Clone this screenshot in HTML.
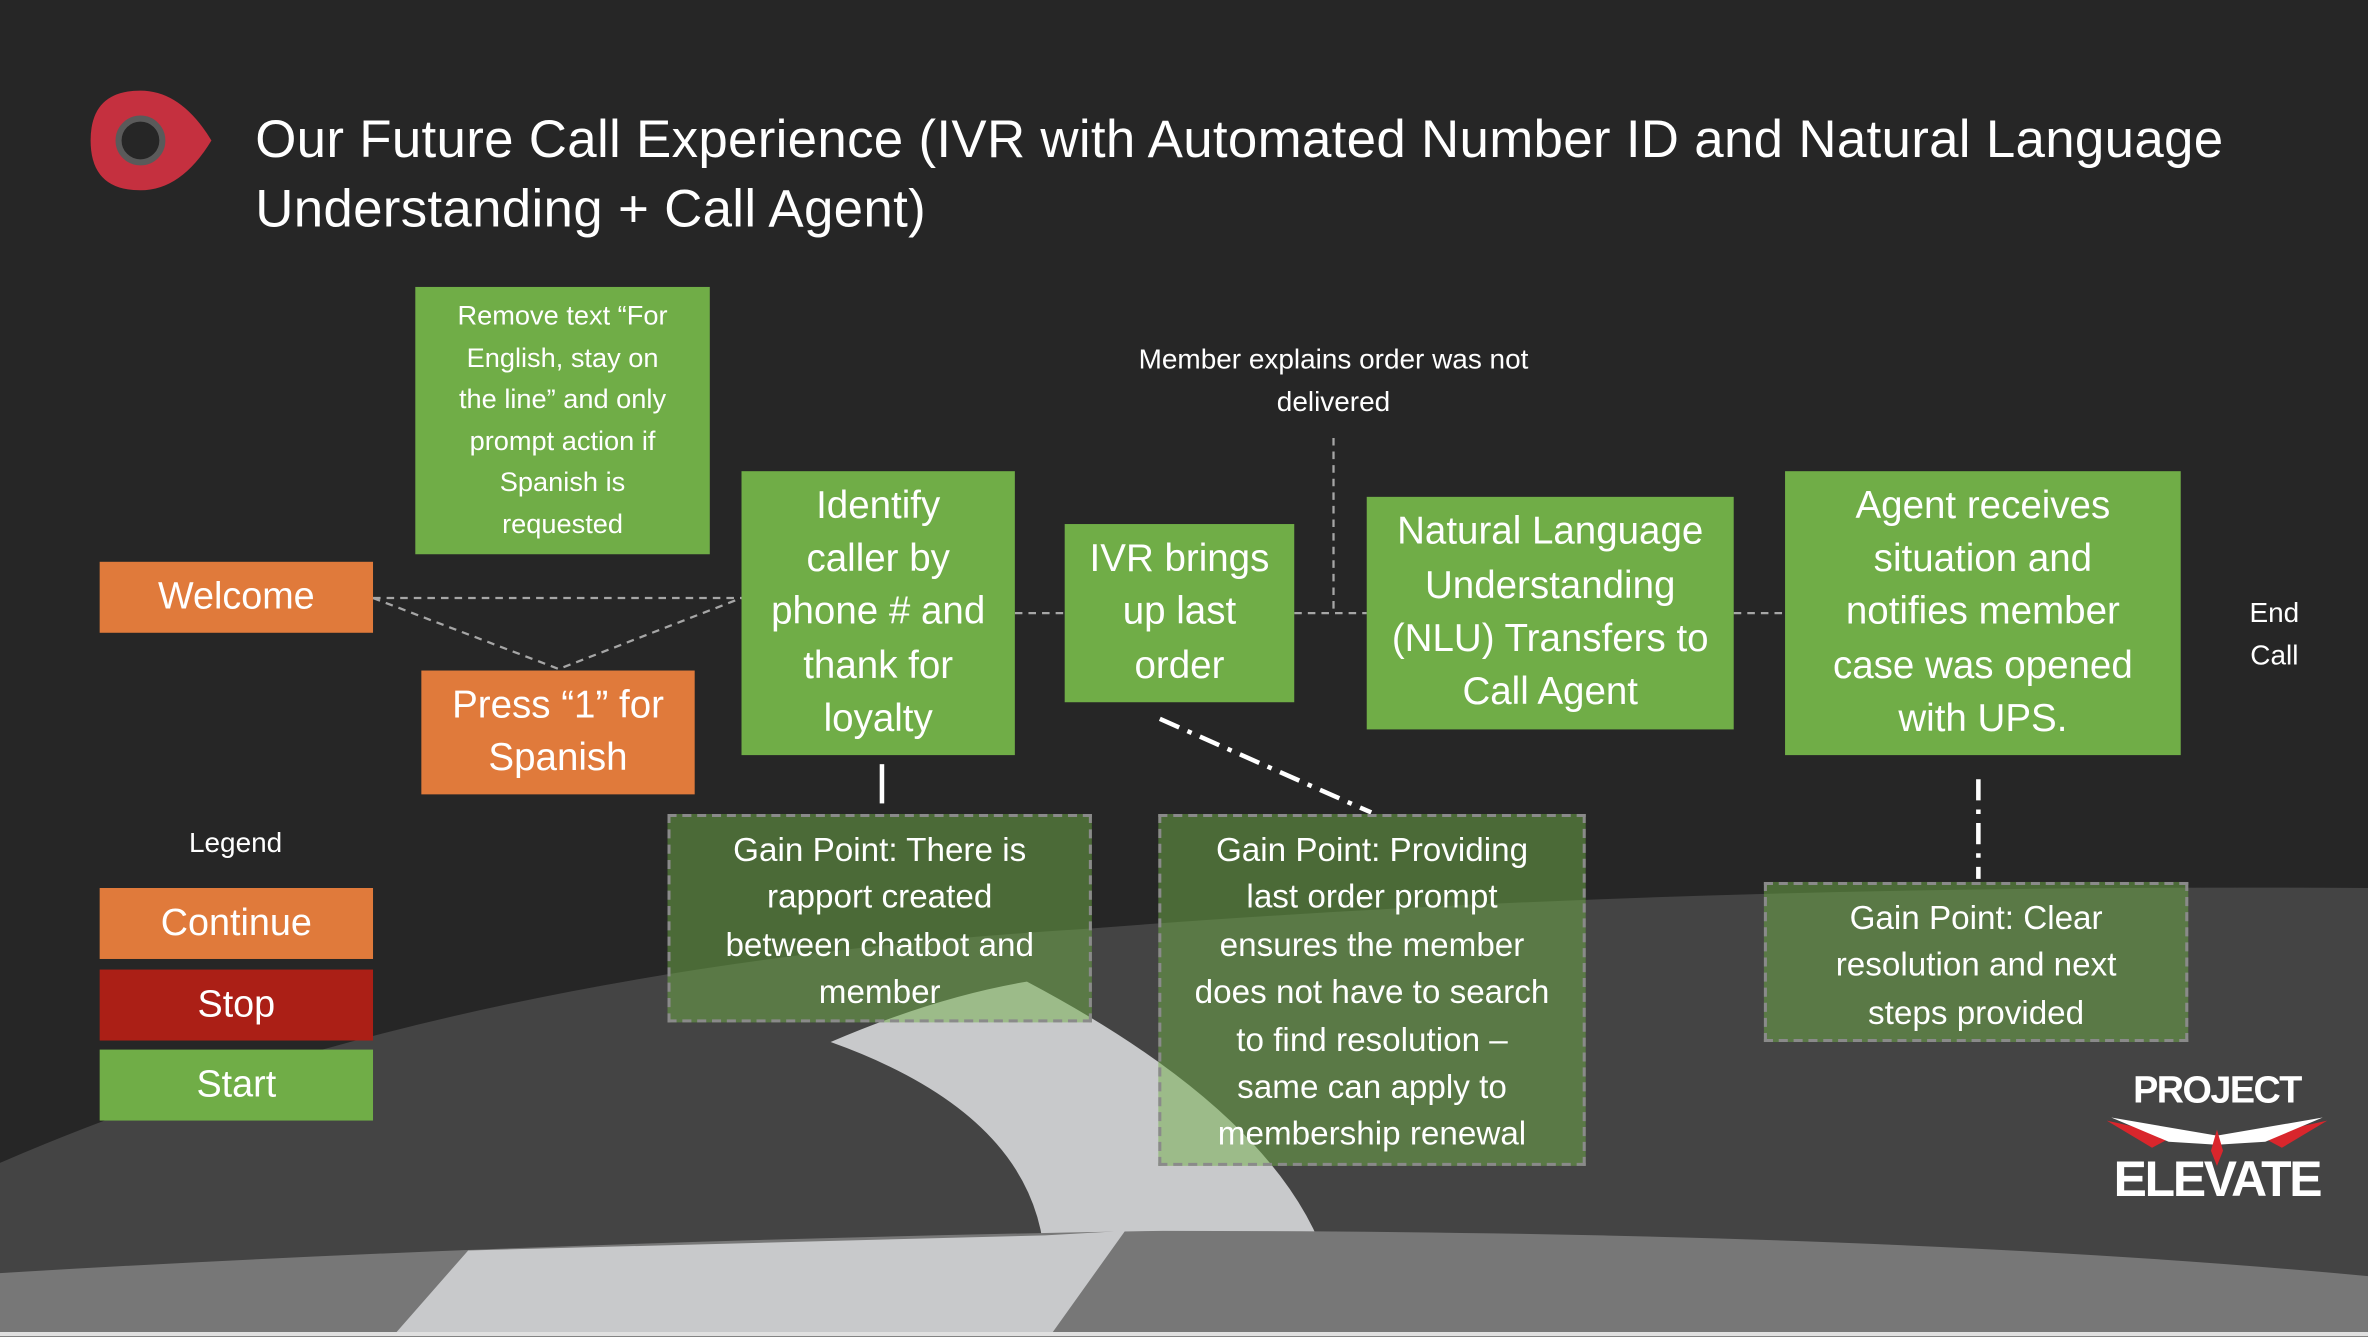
<!DOCTYPE html>
<html><head><meta charset="utf-8"><style>
html,body{margin:0;padding:0;background:#262626;overflow:hidden}
#s{position:absolute;left:0;top:0;width:1568px;height:885px;transform:scale(1.5102);transform-origin:0 0;font-family:"Liberation Sans",sans-serif;color:#fff}
.b{position:absolute;display:flex;align-items:center;justify-content:center;text-align:center;box-sizing:border-box;color:#fff;white-space:nowrap}
.o{background:#e07a3b}.g{background:#70ad47}
.gp{position:absolute;box-sizing:border-box;background:rgba(112,173,71,0.5);border:2px dashed #8a8a8a;text-align:center;font-size:22px;line-height:31.4px;padding-top:6px;white-space:nowrap}
.t{position:absolute;text-align:center;font-size:18.5px;line-height:27.5px}
.big{font-size:25.5px;line-height:35.3px}
</style></head><body><div id="s">
<svg width="1568" height="885" style="position:absolute;left:0;top:0">
<path d="M0 770 Q300 640 720 615 Q1100 585 1568 588 L1568 885 L0 885Z" fill="#444"/>
<path d="M550 690 Q620 660 680 650 Q850 740 880 840 L692 840 Q690 740 550 690Z" fill="#c8c9cb"/>
<path d="M0 843 Q350 822 770 815 Q1250 815 1568 845 L1568 885 L0 885Z" fill="#777"/>
<path d="M310 828 L692 818 L745 815 L695 885 L260 885Z" fill="#c8c9cb"/>
<path d="M0 882 L1568 882 L1568 885 L0 885Z" fill="#e0e0e0"/>
<path d="M93 60 Q120 60 140 93 Q120 126 93 126 Q60 126 60 93 Q60 60 93 60Z" fill="#c5303f"/>
<circle cx="93" cy="93" r="14.5" fill="#262626" stroke="#5a5a5a" stroke-width="4"/>
<g stroke="#a6a6a6" stroke-width="1.5" stroke-dasharray="5,4" fill="none">
<path d="M247 396 L491 396 M247 396 L370 443 L491 396 M672 406 L705 406 M857 406 L905 406 M883 290 L883 406 M1148 406 L1182 406"/>
</g>
<path d="M584 506 L584 532" stroke="#fff" stroke-width="3"/>
<g stroke="#fff" stroke-width="3" stroke-dasharray="14,6,3,6" fill="none">
<path d="M768 476 L908 538 M1310 516 L1310 582"/>
</g>
<g fill="#d9262c"><path d="M1395 742 L1440 752 L1425 760Z M1541 742 L1496 752 L1511 760Z"/></g>
<path d="M1398 740 L1468 752 L1538 740 L1500 756 L1468 758 L1436 756Z" fill="#fff"/>
<path d="M1468 748 L1472 762 L1468 772 L1464 762Z" fill="#d9262c"/>
</svg>
<div style="position:absolute;left:169px;top:70px;font-size:35px;line-height:46px;white-space:nowrap;letter-spacing:0.2px">Our Future Call Experience (IVR with Automated Number ID and Natural Language<br>Understanding + Call Agent)</div>
<div class="b o" style="left:66px;top:372px;width:181px;height:47px;font-size:25px">Welcome</div>
<div class="b g" style="left:275px;top:190px;width:195px;height:177px;font-size:18px;line-height:27.5px">Remove text “For<br>English, stay on<br>the line” and only<br>prompt action if<br>Spanish is<br>requested</div>
<div class="b o big" style="left:279px;top:444px;width:181px;height:82px">Press “1” for<br>Spanish</div>
<div class="b g big" style="left:491px;top:312px;width:181px;height:188px">Identify<br>caller by<br>phone # and<br>thank for<br>loyalty</div>
<div class="b g big" style="left:705px;top:347px;width:152px;height:118px">IVR brings<br>up last<br>order</div>
<div class="b g big" style="left:905px;top:329px;width:243px;height:154px">Natural Language<br>Understanding<br>(NLU) Transfers to<br>Call Agent</div>
<div class="b g big" style="left:1182px;top:312px;width:262px;height:188px">Agent receives<br>situation and<br>notifies member<br>case was opened<br>with UPS.</div>
<div class="t" style="left:1470px;top:392px;width:72px">End<br>Call</div>
<div class="t" style="left:723px;top:224px;width:320px">Member explains order was not<br>delivered</div>
<div class="gp" style="left:442px;top:539px;width:281px;height:138px">Gain Point: There is<br>rapport created<br>between chatbot and<br>member</div>
<div class="gp" style="left:767px;top:539px;width:283px;height:233px">Gain Point: Providing<br>last order prompt<br>ensures the member<br>does not have to search<br>to find resolution –<br>same can apply to<br>membership renewal</div>
<div class="gp" style="left:1168px;top:584px;width:281px;height:106px">Gain Point: Clear<br>resolution and next<br>steps provided</div>
<div class="t" style="left:96px;top:544px;width:120px">Legend</div>
<div class="b o" style="left:66px;top:588px;width:181px;height:47px;font-size:25px">Continue</div>
<div class="b" style="left:66px;top:642px;width:181px;height:47px;font-size:25px;background:#ab1f16">Stop</div>
<div class="b g" style="left:66px;top:695px;width:181px;height:47px;font-size:25px">Start</div>
<div style="position:absolute;left:1388px;top:708px;width:160px;text-align:center;font-weight:bold;font-size:25px;letter-spacing:-1px">PROJECT</div>
<div style="position:absolute;left:1383px;top:762px;width:170px;text-align:center;font-weight:bold;font-size:33px;letter-spacing:-1.5px">ELEVATE</div>
</div></body></html>
